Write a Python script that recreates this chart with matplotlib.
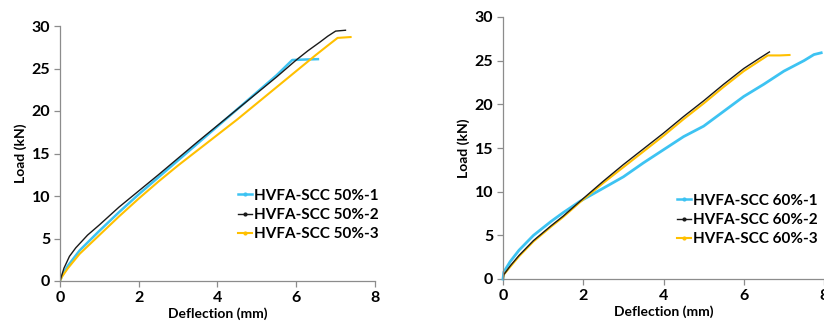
import matplotlib
matplotlib.use("Agg")
import matplotlib.pyplot as plt
from matplotlib.lines import Line2D

plt.rcParams['font.family'] = ['Lato', 'DejaVu Sans']

# ---- data: left panel (50%) ----
x50_1 = [0, 0.05, 0.2, 0.5, 1.0, 1.5, 2.0, 2.5, 3.0, 3.5, 4.0, 4.5, 5.0, 5.5, 5.9, 6.2, 6.55]
y50_1 = [0, 0.6, 1.8, 3.6, 5.9, 8.1, 10.2, 12.2, 14.2, 16.2, 18.2, 20.2, 22.2, 24.2, 26.0, 26.05, 26.1]
x50_2 = [0, 0.1, 0.24, 0.4, 0.7, 1.0, 1.5, 2.0, 2.5, 3.0, 3.5, 4.0, 4.5, 5.0, 5.5, 6.0, 6.3, 6.6, 6.8, 7.0, 7.25]
y50_2 = [0, 1.5, 2.9, 3.9, 5.4, 6.6, 8.7, 10.6, 12.5, 14.45, 16.4, 18.3, 20.2, 22.1, 24.0, 26.0, 27.1, 28.1, 28.8, 29.4, 29.5]
x50_3 = [0, 0.05, 0.2, 0.5, 1.0, 1.5, 2.0, 2.5, 3.0, 3.5, 4.0, 4.5, 5.0, 5.5, 6.0, 6.5, 6.8, 7.05, 7.38]
y50_3 = [0, 0.5, 1.5, 3.2, 5.4, 7.6, 9.7, 11.7, 13.6, 15.4, 17.2, 19.0, 20.9, 22.8, 24.7, 26.6, 27.7, 28.6, 28.7]

# ---- data: right panel (60%) ----
x60_1 = [0, 0.02, 0.18, 0.4, 0.76, 1.2, 1.5, 1.92, 2.5, 3.0, 3.5, 4.0, 4.5, 5.0, 5.5, 6.0, 6.5, 7.0, 7.5, 7.75, 7.93]
y60_1 = [0, 0.8, 2.0, 3.3, 5.0, 6.6, 7.6, 8.9, 10.4, 11.7, 13.3, 14.8, 16.3, 17.5, 19.2, 20.9, 22.3, 23.8, 25.0, 25.7, 25.9]
x60_2 = [0, 0.02, 0.18, 0.4, 0.76, 1.2, 1.5, 1.92, 2.5, 3.0, 3.5, 4.0, 4.5, 5.0, 5.5, 6.0, 6.4, 6.64]
y60_2 = [0, 0.5, 1.5, 2.7, 4.4, 6.1, 7.2, 8.9, 11.2, 13.1, 14.9, 16.7, 18.6, 20.4, 22.3, 24.1, 25.3, 26.0]
x60_3 = [0, 0.02, 0.18, 0.4, 0.76, 1.2, 1.5, 1.92, 2.5, 3.0, 3.5, 4.0, 4.5, 5.0, 5.5, 6.0, 6.6, 6.9, 7.14]
y60_3 = [0, 0.5, 1.4, 2.6, 4.3, 6.0, 7.1, 8.8, 11.0, 12.8, 14.6, 16.4, 18.3, 20.1, 22.0, 23.8, 25.6, 25.6, 25.65]

labels50 = ['HVFA-SCC 50%-1', 'HVFA-SCC 50%-2', 'HVFA-SCC 50%-3']
labels60 = ['HVFA-SCC 60%-1', 'HVFA-SCC 60%-2', 'HVFA-SCC 60%-3']
colors = ['#3DC3F2', '#1a1a1a', '#FFC000']
widths = [1.8, 1.0, 1.5]

xticks = [0, 2, 4, 6, 8]
yticks = [0, 5, 10, 15, 20, 25, 30]

fig = plt.figure(figsize=(8.24, 3.27), dpi=100)
ax1 = fig.add_axes([60/824, 46/327, 315/824, 255/327])
ax2 = fig.add_axes([503/824, 48/327, 321/824, 262/327])

def style(ax):
    ax.set_xlim(0, 8)
    ax.set_ylim(0, 30)
    ax.set_xticks(xticks)
    ax.set_yticks(yticks)
    for s in ['top', 'right']:
        ax.spines[s].set_visible(False)
    for s in ['left', 'bottom']:
        ax.spines[s].set_color('#8c8c8c')
        ax.spines[s].set_linewidth(0.9)
    ax.tick_params(axis='both', direction='out', length=4, width=0.9,
                   color='#8c8c8c', labelsize=11.5, pad=3)
    for t in ax.get_xticklabels() + ax.get_yticklabels():
        t.set_fontweight('bold')
    ax.set_xlabel('Deflection (mm)', fontsize=10, fontweight='bold', labelpad=2)
    ax.set_ylabel('Load (kN)', fontsize=10, fontweight='bold', labelpad=3)

ax1.plot(x50_1, y50_1, color=colors[0], lw=widths[0])
ax1.plot(x50_3, y50_3, color=colors[2], lw=widths[2])
ax1.plot(x50_2, y50_2, color=colors[1], lw=widths[1])

ax2.plot(x60_1, y60_1, color=colors[0], lw=2.0, clip_on=False)
ax2.plot(x60_3, y60_3, color=colors[2], lw=widths[2])
ax2.plot(x60_2, y60_2, color=colors[1], lw=widths[1])

style(ax1)
style(ax2)

def handles():
    return [Line2D([], [], color=c, lw=w, marker='o', ms=2) for c, w in zip(colors, widths)]

common = dict(loc='center left', frameon=False, handlelength=0.9, handletextpad=0.15,
              labelspacing=0.35, borderaxespad=0, borderpad=0,
              prop={'weight': 'bold', 'size': 11})
fig.legend(handles(), labels50, bbox_to_anchor=(238/824, 1 - 215/327), **common)
fig.legend(handles(), labels60, bbox_to_anchor=(677/824, 1 - 220/327), **common)

fig.savefig('out.png', dpi=100)
